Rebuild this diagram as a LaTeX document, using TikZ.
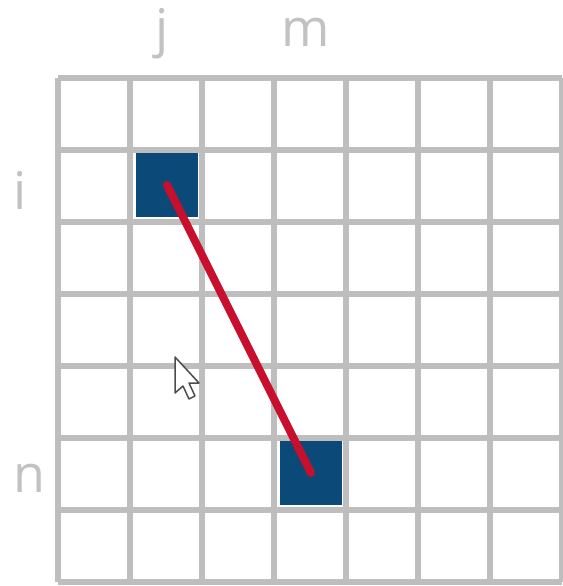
\documentclass[tikz,border=0pt]{standalone}
\usepackage{fontspec}
\setmainfont{Open Sans}
\definecolor{gridgray}{HTML}{BEBEBE}
\definecolor{cellblue}{HTML}{0B4A78}
\definecolor{linered}{HTML}{C8102E}
\definecolor{labelgray}{HTML}{C2C2C2}
\begin{document}
\begin{tikzpicture}[x=1pt,y=-1pt,
  gridline/.style={draw=gridgray,line width=6.5pt},
  filledcell/.style={fill=cellblue,draw=none,minimum width=62pt,minimum height=64pt,inner sep=0pt},
  axislabel/.style={text=labelgray,font=\fontsize{52}{52}\selectfont,inner sep=0pt},
  link/.style={draw=linered,line width=8pt,line cap=round}]
\useasboundingbox[fill=white] (0,0) rectangle (562,586);
% grid
\foreach \k in {0,...,7}{
  \draw[gridline] (58+72*\k,78) -- (58+72*\k,582);
  \draw[gridline] (58,78+72*\k) -- (562,78+72*\k);
}
% filled cells
\node[filledcell] (c1) at (167,185) {};
\node[filledcell] (c2) at (311,473) {};
\draw[link] (c1.center) -- (c2.center);
% labels
\node[axislabel,anchor=base] (lj) at (162,47) {j};
\node[axislabel,anchor=base] (lm) at (306,47) {m};
\node[axislabel,anchor=base] (li) at (20,209) {i};
\node[axislabel,anchor=base] (ln) at (29,492) {n};
% cursor
\draw[fill=white,draw=black!70,line width=1.5pt,line join=round]
  (175,357) -- (175,393) -- (183,386) -- (189,399) -- (195,396) -- (189,383) -- (199,383) -- cycle;
\end{tikzpicture}
\end{document}
